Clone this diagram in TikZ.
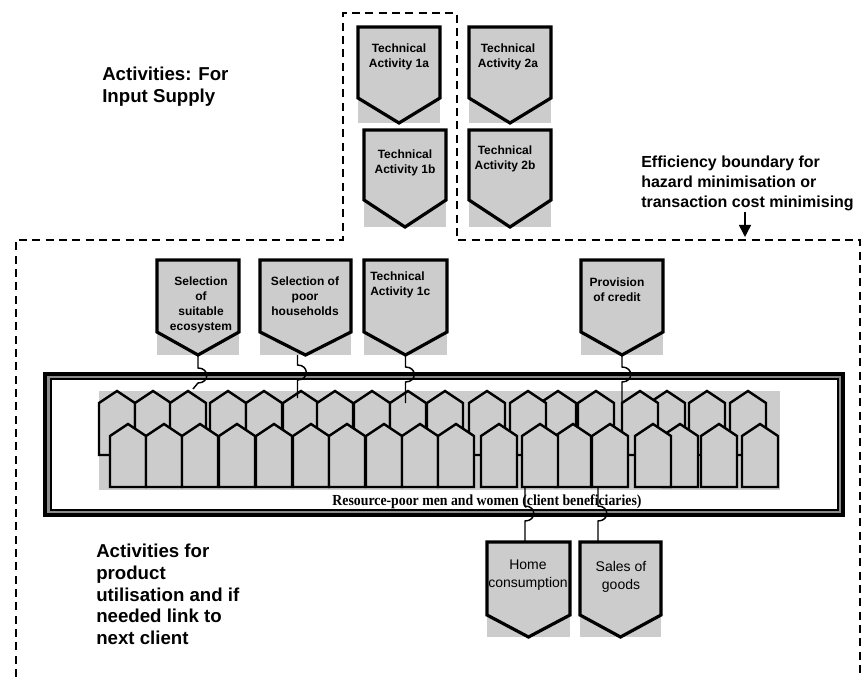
\documentclass[tikz,border=0pt]{standalone}
\usepackage{fontspec}
\usepackage{graphicx}
\setmainfont{Liberation Sans}
\newfontfamily\timesfont{Liberation Serif}
\usetikzlibrary{arrows.meta}

\tikzset{
  grain/.style={fill=black!20},
  shield/.style={draw=black,line width=2.4pt,line join=miter},
  person/.style={draw=black,fill=black!20,line width=1.8pt,line join=miter},
  link/.style={draw=black,line width=1.1pt},
  boundary/.style={draw=black,line width=1.5pt,dash pattern=on 6pt off 4pt},
  shieldtext/.style={font=\bfseries\fontsize{9}{11.25}\selectfont,align=center,inner sep=0pt},
  bigtext/.style={anchor=north west,align=left,inner sep=0pt},
}

% name, left, right, top, shoulder, tip
\newcommand{\shieldshape}[6]{%
  \fill[grain] (#2,#4) rectangle (#3,#6);
  \draw[shield] (#2,#4) -- (#3,#4) -- (#3,#5) -- ({(#2+#3)/2},#6) -- (#2,#5) -- cycle;
  \coordinate (#1-top) at ({(#2+#3)/2},#4);
  \coordinate (#1-tip) at ({(#2+#3)/2},#6);
}

\begin{document}
\begin{tikzpicture}[x=0.75pt,y=-0.75pt]
\useasboundingbox (0,0) rectangle (864,677);

\draw[boundary] (16,677) -- (16,240) -- (343,240) -- (343,13) -- (457,13) -- (457,240) -- (860,240) -- (860,677);

\node[bigtext,font=\bfseries\fontsize{14}{16.5}\selectfont] (inputs) at (102,67) {Activities: For\\Input Supply};
\node[bigtext,font=\bfseries\fontsize{12}{15}\selectfont] (eff) at (641,156) {Efficiency boundary for\\hazard minimisation or\\transaction cost minimising};
\node[bigtext,font=\bfseries\fontsize{14}{16.3}\selectfont] (outputs) at (96,544) {Activities for\\product\\utilisation and if\\needed link to\\next client};

\coordinate (edge) at (745,237);
\draw[link,-{Triangle[width=9pt,length=9pt]}] (edge |- eff.south) -- (edge);

\shieldshape{ta1a}{358}{440}{27}{98}{123}
\shieldshape{ta2a}{469}{551}{27}{98}{123}
\shieldshape{ta1b}{364}{446}{130}{200}{227}
\shieldshape{ta2b}{469}{551}{130}{200}{227}
\node[shieldtext] (t1a) at (399,57) {Technical\\Activity 1a};
\node[shieldtext] (t2a) at (508,57) {Technical\\Activity 2a};
\node[shieldtext] (t1b) at (405,163) {Technical\\Activity 1b};
\node[shieldtext] (t2b) at (505,159) {Technical\\Activity 2b};

\shieldshape{eco}{157}{239}{260}{332}{355}
\shieldshape{hh}{260}{351}{260}{332}{355}
\shieldshape{ta1c}{364}{447}{260}{332}{355}
\shieldshape{cred}{581}{663}{260}{332}{355}
\node[shieldtext] (teco) at (201,305) {Selection\\of\\suitable\\ecosystem};
\node[shieldtext] (thh) at (305,296) {Selection of\\poor\\households};
\node[shieldtext,align=left,anchor=north west] (t1c) at (370,272) {Technical\\Activity 1c};
\node[shieldtext] (tcred) at (617,290) {Provision\\of credit};

\draw[black!45,line width=3.5pt] (48,376.5) rectangle (840.5,512.5);
\draw[line width=3pt] (45,374) rectangle (843,515);
\draw[line width=1.1pt] (51,379) rectangle (838,510);

\fill[grain] (99,391) rectangle (780,490);
\foreach \x in {558,667,117,153,188,228,264,301,335,372,408,445,487,528,596,640,707,748}
  \draw[person] (\x-18,455) -- (\x-18,403) -- (\x,391) -- (\x+18,403) -- (\x+18,455) -- cycle;
\foreach \x in {573,680,128,164,200,237,274,311,347,384,420,456,499,540,610,653,719,760}
  \draw[person] (\x-18,487) -- (\x-18,436) -- (\x,424) -- (\x+18,436) -- (\x+18,487) -- cycle;

\node[font=\timesfont\bfseries\fontsize{11.5}{13}\selectfont,inner sep=0pt] (clients) at (487,502) {\scalebox{0.9}[1]{Resource-poor men and women (client beneficiaries)}};

\coordinate (eco-end) at (193,389);
\coordinate (hh-end) at (297.5,398);
\coordinate (ta1c-end) at (405.5,403);
\coordinate (cred-end) at (622,423);
\draw[link] (eco-tip) -- ++(0,13) to[out=0,in=0,looseness=2] ++(0,15) -- (eco-end);
\draw[link] ([xshift=-6pt]hh-tip) -- ++(0,10) to[out=0,in=0,looseness=2] ++(0,15) -- (hh-end);
\draw[link] (ta1c-tip) -- ++(0,12) to[out=0,in=0,looseness=2] ++(0,15) -- (ta1c-end);
\draw[link] (cred-tip) -- ++(0,12) to[out=0,in=0,looseness=2] ++(0,15) -- (cred-end);

\shieldshape{home}{487}{570}{542}{615}{637}
\shieldshape{sales}{580}{661}{542}{615}{637}
\node[font=\fontsize{10.5}{13}\selectfont,align=center,inner sep=0pt] (thome) at (528,575) {Home\\consumption};
\node[font=\fontsize{10.5}{13}\selectfont,align=center,inner sep=0pt] (tsales) at (621,577) {Sales of\\goods};

\coordinate (home-from) at (525,487);
\coordinate (sales-from) at (598,487);
\draw[link] (home-from) -- ++(0,19) to[out=0,in=0,looseness=2] ++(0,15) -- (home-from |- home-top);
\draw[link] (sales-from) -- ++(0,19) to[out=0,in=0,looseness=2] ++(0,15) -- (sales-from |- sales-top);
\end{tikzpicture}
\end{document}
